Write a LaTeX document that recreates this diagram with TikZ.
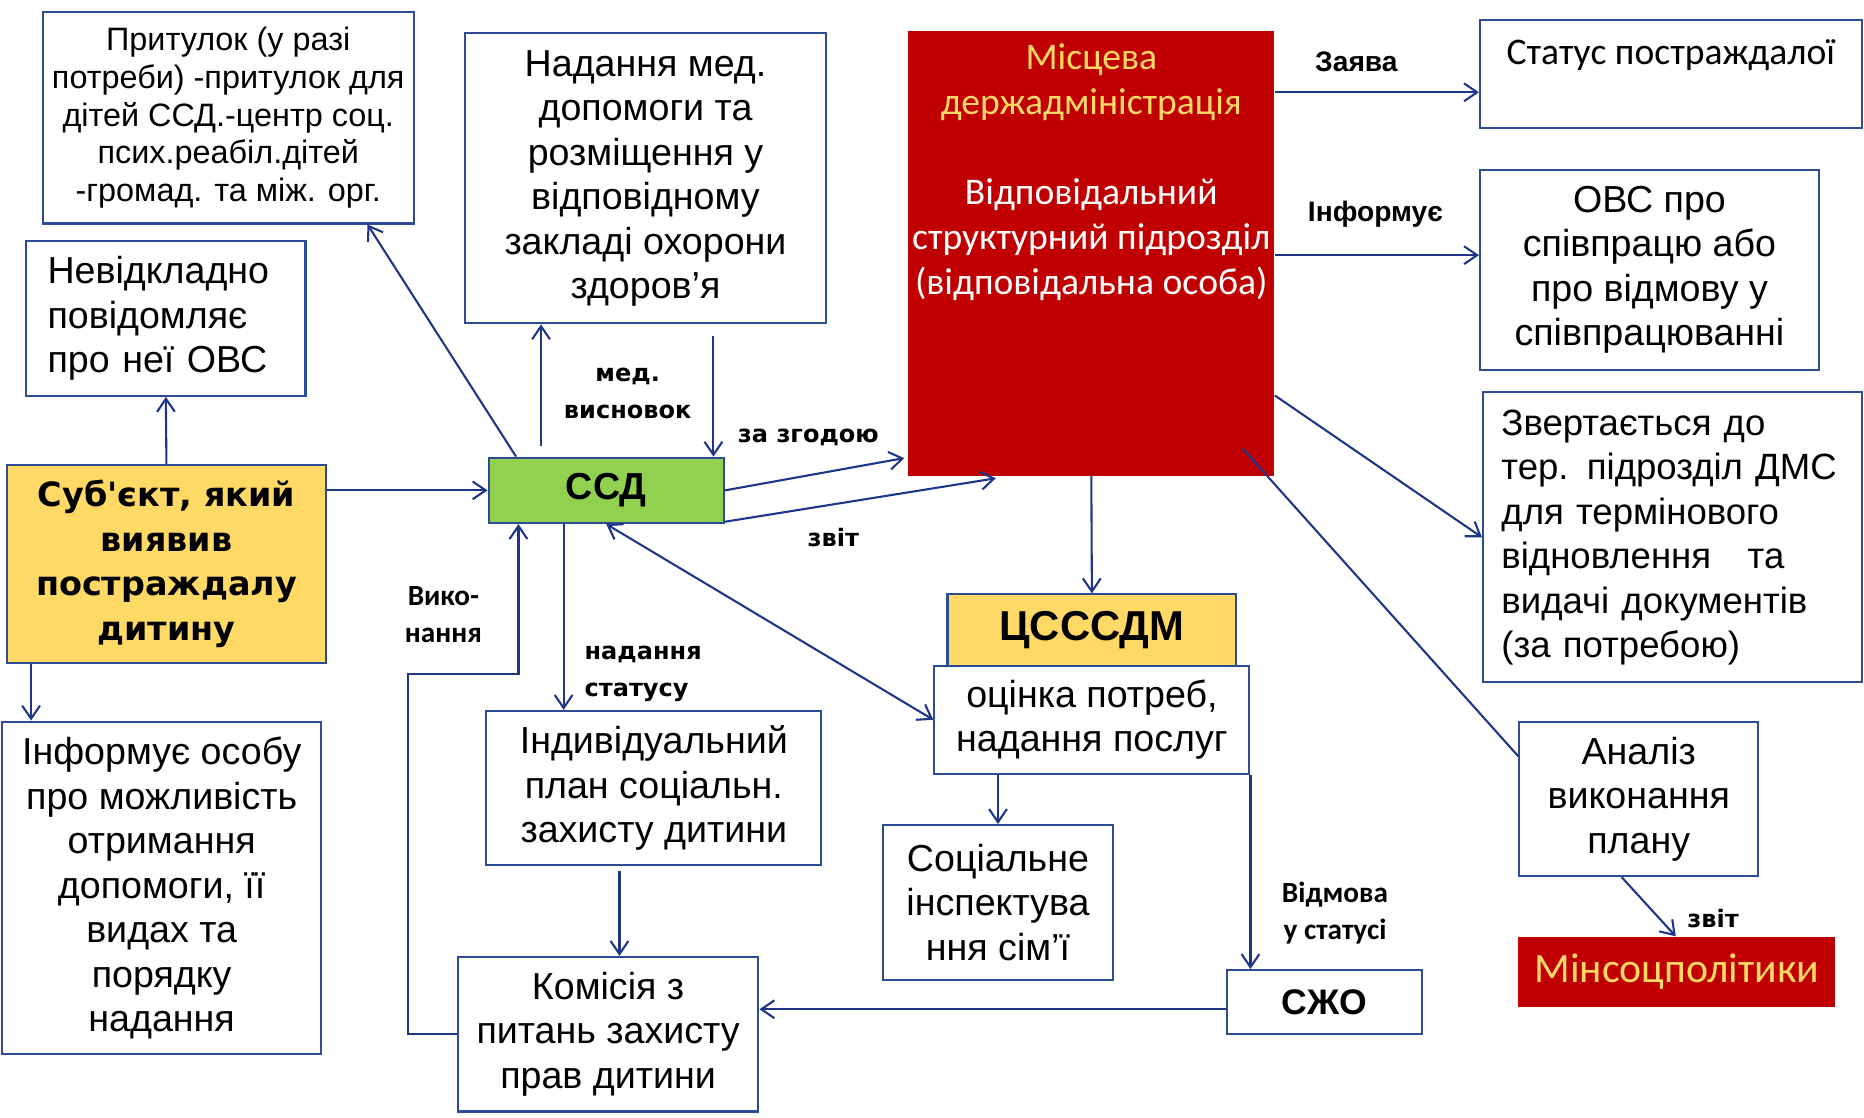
\documentclass[tikz,border=0pt]{standalone}
\usepackage{fontspec}
\setmainfont{Liberation Sans}
\newfontfamily\calfont{Carlito}
\newfontfamily\verfont{DejaVu Sans}
\usepackage{tikz}
\usetikzlibrary{arrows.meta,calc}
\definecolor{boxblue}{RGB}{44,76,148}
\definecolor{lineblue}{RGB}{30,54,138}
\definecolor{subyel}{RGB}{255,217,102}
\definecolor{ssdgreen}{RGB}{146,208,80}
\definecolor{mdared}{RGB}{192,0,0}
\definecolor{txtyel}{RGB}{255,217,102}

\begin{document}
\begin{tikzpicture}[
  x=0.2mm, y=-0.2mm,
  >={Straight Barb[length=2.2mm, width=3mm]},
  box/.style={draw=boxblue, line width=1pt, align=center, inner sep=2pt,
              font=\fontsize{18}{21.3}\selectfont},
  sz/.style 2 args={minimum width=#1*0.2mm, minimum height=#2*0.2mm},
  lab/.style={font=\verfont\bfseries\fontsize{11.5}{18}\selectfont, align=center, inner sep=0pt},
  labc/.style={font=\calfont\bfseries\fontsize{14}{17.5}\selectfont, align=center, inner sep=0pt},
  laba/.style={font=\bfseries\fontsize{13.5}{16}\selectfont, inner sep=0pt},
  flow/.style={->, draw=lineblue, line width=1pt},
  conn/.style={draw=lineblue, line width=1pt},
]
\useasboundingbox (0,0) rectangle (1568,940);

% left column
\node[box, sz={312}{178}, font=\fontsize{15.5}{18.1}\selectfont] (prit) at (192,99)
  {Притулок (у разі\\потреби) -притулок для\\дітей ССД.-центр соц.\\псих.реабіл.дітей\\-громад. та між. орг.};
\node[box, align=left, text width=39.8mm, inner xsep=3.6mm, minimum height=26mm] (nevid) at (139.5,268)
  {Невідкладно\\повідомляє\\про неї ОВС};
\node[box, fill=subyel, sz={268}{167}, font=\verfont\bfseries\fontsize{16}{21.3}\selectfont] (sub) at (140,474.5)
  {Суб'єкт, який\\виявив\\постраждалу\\дитину};
\node[box, sz={268}{280}] (inform) at (136,747)
  {Інформує особу\\про можливість\\отримання\\допомоги, її\\видах та\\порядку\\надання};

% centre
\node[box, sz={304}{244}] (nadan) at (543,150)
  {Надання мед.\\допомоги та\\розміщення у\\відповідному\\закладі охорони\\здоров’я};
\node[box, fill=ssdgreen, sz={198}{55}, font=\bfseries\fontsize{18}{21}\selectfont] (ssd) at (510,412.5) {ССД};
\node[box, sz={282}{130}] (indiv) at (550,663) {Індивідуальний\\план соціальн.\\захисту дитини};
\node[box, sz={253}{130}] (komis) at (511.5,870) {Комісія з\\питань захисту\\прав дитини};

% local administration
\node[fill=mdared, sz={308}{374}] (mda) at (918,213) {};
\node[font=\calfont\fontsize{18}{21.5}\selectfont, align=center, anchor=north, inner sep=0pt] (mdatxt)
  at ($(mda.north)+(0,11)$)
  {\textcolor{txtyel}{Місцева}\\\textcolor{txtyel}{держадміністрація}\\[21.5pt]
   \textcolor{white}{Відповідальний}\\\textcolor{white}{структурний підрозділ}\\
   \textcolor{white}{(відповідальна особа)}};
\node[box, fill=subyel, sz={243}{60}, font=\bfseries\fontsize{20}{24}\selectfont] (cs) at (918.5,530) {ЦСССДМ};
\node[box, fill=white, sz={265}{91}] (ocin) at (918.5,605.5) {оцінка потреб,\\надання послуг};
\node[box, sz={193}{130}] (soc) at (839.5,759) {Соціальне\\інспектува\\ння сім’ї};
\node[box, sz={164}{54}, font=\bfseries\fontsize{17}{20}\selectfont] (szho) at (1114,843) {СЖО};

% right column
\node[box, sz={321}{91}, font=\calfont\fontsize{18}{21.5}\selectfont] (stat) at (1405.5,62.5)
  {Статус постраждалої\\\mbox{}};
\node[box, sz={285}{168}] (ovs) at (1387.5,227) {ОВС про\\співпрацю або\\про відмову у\\співпрацюванні};
\node[box, align=left, text width=57.6mm, inner xsep=3.1mm, minimum height=48.8mm,
      font=\fontsize{17.5}{21.3}\selectfont] (zvert) at (1407,452)
  {Звертається до\\\mbox{тер. підрозділ ДМС}\\для термінового\\відновлення\ \ \ та\\\mbox{видачі документів}\\(за потребою)};
\node[box, sz={201}{130}] (anal) at (1378.5,672) {Аналіз\\виконання\\плану};
\node[fill=mdared, sz={267}{59}, text=txtyel, font=\calfont\fontsize{20}{24}\selectfont] (minso) at (1410.5,817.5)
  {Мінсоцполітики};

% labels
\node[lab] (medlab) at (528,331) {мед.\\висновок};
\node[lab] (zgodlab) at (680,368) {за згодою};
\node[lab] (zvitlab) at (701,452) {звіт};
\node[labc] (vykonlab) at (373,517) {Вико-\\нання};
\node[lab, align=left] (nadstatlab) at (541,567) {надання\\статусу};
\node[labc] (vidmlab) at (1123,768) {Відмова\\у статусі};
\node[laba] (zayavlab) at (1141,52) {Заява};
\node[laba] (informlab) at (1157,180) {Інформує};
\node[lab] (zvitlab2) at (1441,773) {звіт};

% connectors
\draw[flow] (sub.north) -- (nevid.south);
\draw[flow] (sub.east |- ssd.west) -- (ssd.west);
\draw[flow] ($(sub.south west)+(21,0)$) coordinate (c1) -- (c1 |- inform.north);
\draw[flow] ($(ssd.north west)+(24,0)$) -- ($(prit.south west)+(274,0)$);
\draw[flow] ($(ssd.north west)+(45,-9)$) coordinate (e1) -- (e1 |- nadan.south);
\draw[flow] ($(nadan.south west)+(210,10)$) coordinate (f1) -- (f1 |- ssd.north);
\draw[flow] (ssd.east) -- ($(mda.south west)+(-3,-15)$);
\draw[flow] ($(ssd.south east)+(0,-2)$) -- ($(mda.south west)+(74,2)$);
\draw[flow] ($(mda.north east)+(0,52)$) coordinate (i1) -- (i1 -| stat.west);
\draw[flow] ($(mda.north east)+(0,189)$) coordinate (j1) -- (j1 -| ovs.west);
\draw[flow] ($(mda.north east)+(0,307)$) -- (zvert.west);
\draw[conn] ($(mda.south east)+(-27,-23)$) -- ($(anal.north west)+(0,30)$);
\draw[flow] (mda.south) -- (cs.north);
\draw[flow, <->] (ssd.south) -- (ocin.west);
\draw[flow] ($(ssd.south west)+(64,0)$) coordinate (o1) -- (o1 |- indiv.north);
\draw[flow] ($(indiv.south west)+(113,4)$) coordinate (p1) -- (p1 |- komis.north);
\draw[flow] (komis.west) -- ++(-41,0) |- ($(ssd.south west)+(26,126)$) -- ($(ssd.south west)+(26,0)$);
\draw[flow] (ocin.south -| soc.north) -- (soc.north);
\draw[flow] (ocin.south east) -- (ocin.south east |- szho.north);
\draw[flow] ($(szho.west)+(0,6)$) coordinate (t1) -- (t1 -| komis.east);
\draw[flow] ($(anal.south west)+(87,0)$) -- ($(minso.north west)+(133,0)$);
\end{tikzpicture}
\end{document}
